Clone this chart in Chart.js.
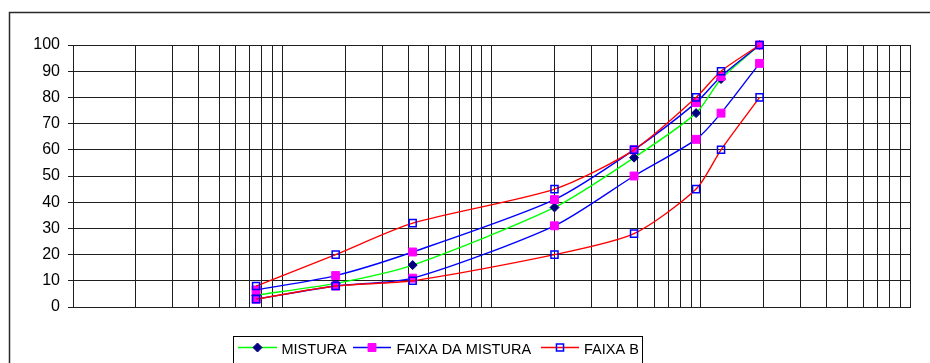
<!DOCTYPE html>
<html>
<head>
<meta charset="utf-8">
<script src="https://cdn.jsdelivr.net/npm/chart.js@4/dist/chart.umd.min.js"></script>
<style>
  html, body { margin: 0; padding: 0; background: #fff; }
  canvas { display: block; }
</style>
</head>
<body>
<canvas id="curva" width="930" height="363"></canvas>
<script>
// Sieve openings (mm), plotted on a logarithmic axis
const sieves = [0.075, 0.18, 0.42, 2.0, 4.8, 9.5, 12.5, 19.1];

// Percentage passing
const mistura         = [4.5, 9, 16, 38, 57, 74, 87, 100];
const faixaMisturaSup = [6.5, 12, 21, 41, 60, 78, 88, 100];
const faixaMisturaInf = [3, 8, 11, 31, 50, 64, 74, 93];
const faixaBSup       = [8, 20, 32, 45, 60, 80, 90, 100];
const faixaBInf       = [3, 8, 10, 20, 28, 45, 60, 80];

// Grid of the log axis: 1..9 within each decade, closing at 100 mm
const decades   = [0.01, 0.1, 1, 10];
const mantissas = [1, 2, 3, 4, 5, 6, 7, 8, 9];
const xGrid = decades.flatMap(d => mantissas.map(m => +(m * d).toPrecision(3))).concat([100]);

// Percentage ticks
const yTicks = [0, 10, 20, 30, 40, 50, 60, 70, 80, 90, 100];

const legendLabels = ['MISTURA', 'FAIXA DA MISTURA', 'FAIXA B'];

const pts = arr => sieves.map((s, i) => ({ x: s, y: arr[i] }));

const styleMistura = {
  borderColor: '#00ff00', pointStyle: 'rectRot', pointRadius: 4.5,
  pointBackgroundColor: '#000080', pointBorderColor: '#000080', pointBorderWidth: 1, order: 3
};
const styleFaixaMistura = {
  borderColor: '#0000ff', pointStyle: 'rect', pointRadius: 5.6,
  pointBackgroundColor: '#ff00ff', pointBorderColor: '#ff00ff', pointBorderWidth: 1, order: 2
};
const styleFaixaB = {
  borderColor: '#ff0000', pointStyle: 'rect', pointRadius: 5,
  pointBackgroundColor: 'rgba(0,0,0,0)', pointBorderColor: '#0000ff', pointBorderWidth: 1.5, order: 1
};

const common = { borderWidth: 1.4, tension: 0.25, fill: false, clip: false };

const datasets = [
  Object.assign({ label: legendLabels[0], data: pts(mistura), legend: true }, common, styleMistura),
  Object.assign({ label: legendLabels[1], data: pts(faixaMisturaSup), legend: true }, common, styleFaixaMistura),
  Object.assign({ label: legendLabels[1], data: pts(faixaMisturaInf), legend: false }, common, styleFaixaMistura),
  Object.assign({ label: legendLabels[2], data: pts(faixaBSup), legend: true }, common, styleFaixaB),
  Object.assign({ label: legendLabels[2], data: pts(faixaBInf), legend: false }, common, styleFaixaB)
];

const gridColor = '#1e1e1e';

// Outer frame of the chart object
const framePlugin = {
  id: 'frame',
  beforeDraw(chart) {
    const ctx = chart.ctx;
    ctx.save();
    ctx.strokeStyle = '#2a2a2a';
    ctx.lineWidth = 1.5;
    ctx.strokeRect(9.5, 12.5, 1000, 1000);
    ctx.restore();
  }
};

// Boxed legend below the plot: line sample with marker, then label
const boxLegendPlugin = {
  id: 'boxLegend',
  afterDraw(chart) {
    const ctx = chart.ctx;
    const items = chart.data.datasets.filter(d => d.legend);
    const slots = [
      { x0: 238, x1: 277, tx: 281.5 },
      { x0: 353, x1: 391, tx: 396.5 },
      { x0: 541, x1: 579, tx: 584 }
    ];
    const y = 347.5;
    ctx.save();
    ctx.strokeStyle = '#000';
    ctx.lineWidth = 1;
    ctx.strokeRect(233.5, 336.5, 409, 40);
    items.forEach((d, i) => {
      const s = slots[i];
      ctx.strokeStyle = d.borderColor;
      ctx.lineWidth = 1.3;
      ctx.beginPath();
      ctx.moveTo(s.x0, y);
      ctx.lineTo(s.x1, y);
      ctx.stroke();
      ctx.fillStyle = d.pointBackgroundColor;
      ctx.strokeStyle = d.pointBorderColor;
      ctx.lineWidth = d.pointBorderWidth;
      Chart.helpers.drawPoint(ctx, {
        pointStyle: d.pointStyle, radius: d.pointRadius, rotation: 0, borderWidth: d.pointBorderWidth
      }, (s.x0 + s.x1) / 2, y);
      ctx.fillStyle = '#000';
      ctx.font = '14.5px "Liberation Sans", Arial, sans-serif';
      ctx.textBaseline = 'alphabetic';
      ctx.textAlign = 'left';
      ctx.fillText(d.label, s.tx, 353.5);
    });
    ctx.restore();
  }
};

new Chart(document.getElementById('curva'), {
  type: 'line',
  data: { datasets },
  plugins: [framePlugin, boxLegendPlugin],
  options: {
    responsive: false,
    animation: false,
    events: [],
    devicePixelRatio: 1,
    layout: { padding: { left: 0, top: 45, right: 20, bottom: 56 } },
    plugins: { legend: { display: false }, tooltip: { enabled: false } },
    scales: {
      x: {
        type: 'logarithmic',
        min: 0.01,
        max: 100,
        afterBuildTicks: scale => { scale.ticks = xGrid.map(v => ({ value: v })); },
        afterFit: scale => { scale.height = 0; },
        ticks: { display: false },
        grid: { color: gridColor, lineWidth: 1, drawTicks: false },
        border: { display: true, color: gridColor, width: 1 }
      },
      y: {
        min: 0,
        max: 100,
        afterBuildTicks: scale => { scale.ticks = yTicks.map(v => ({ value: v })); },
        afterFit: scale => { scale.width = 73; },
        ticks: {
          color: '#000',
          padding: 8,
          font: { family: '"Liberation Sans", Arial, sans-serif', size: 16 }
        },
        grid: { color: gridColor, lineWidth: 1, drawTicks: true, tickLength: 5, tickColor: gridColor },
        border: { display: true, color: gridColor, width: 1 }
      }
    }
  }
});
</script>
</body>
</html>
